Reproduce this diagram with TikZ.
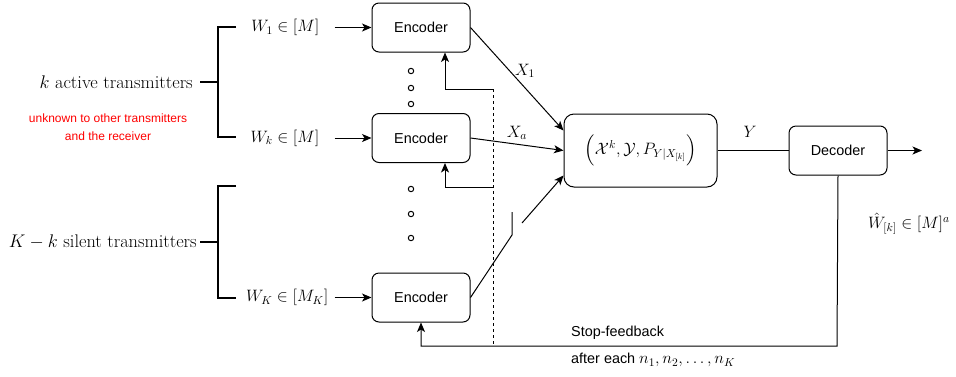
\RequirePackage{fix-cm}
\documentclass[tikz,border=0pt]{standalone}
\usepackage{amsmath}
\usepackage{fontspec}
\setsansfont{Liberation Sans}
\usetikzlibrary{arrows.meta,positioning}
\definecolor{noteRed}{HTML}{FF0000}

\begin{document}
\begin{tikzpicture}[
        x=1pt, y=-1pt,
        box/.style={rectangle, rounded corners=7pt, draw, line width=1pt, fill=white, minimum width=98pt, minimum height=49pt, inner sep=0pt, font=\sffamily\fontsize{14.4}{17}\selectfont},
        chanbox/.style={box, rounded corners=10pt, minimum width=153pt, minimum height=73pt, font=\fontsize{16.5}{20}\selectfont},
        lbl/.style={inner sep=0pt, font=\fontsize{16.5}{20}\selectfont},
        side/.style={lbl, font=\fontsize{18.3}{22}\selectfont},
        note/.style={inner sep=0pt, align=center, text=noteRed, font=\sffamily\fontsize{12}{18}\selectfont},
        plain/.style={inner sep=0pt, font=\sffamily\fontsize{14.4}{17}\selectfont},
        wire/.style={line width=1pt},
        arrow/.style={-{Stealth[length=9.5pt, width=8pt, inset=2.5pt]}, line width=1pt},
        brk/.style={line width=2.6pt}
      ]
        \useasboundingbox (0,0) rectangle (956,376);
        % encoders, channel, decoder
        \node[box] (enc1) at (421,27.5) {Encoder};
        \node[box] (enck) at (421,138) {Encoder};
        \node[box] (encK) at (421,297.5) {Encoder};
        \node[chanbox] (chan) at (640.5,150.5) {$\Big(\mathcal{X}^k, \mathcal{Y}, P_{Y|X_{[k]}}\Big)$};
        \node[box, right=71pt of chan] (dec) {Decoder};
        % messages
        \node[lbl, left=52pt of enc1] (w1) {$W_1 \in [M]$};
        \node[lbl, left=52pt of enck] (wk) {$W_k \in [M]$};
        \node[lbl, left=43pt of encK] (wK) {$W_K \in [M_K]$};
        \node[side, anchor=east] (act) at (193,82) {$k$ active transmitters};
        \node[side, anchor=east] (sil) at (197,242) {$K-k$ silent transmitters};
        \node[note] (unk) at (108,127) {unknown to other transmitters\\and the receiver};
        % brackets
        \draw[brk] (236,27) -- (218,27) -- (218,137) -- (236,137);
        \draw[brk] (200,82) -- (218,82);
        \draw[brk] (236,186) -- (218,186) -- (218,298) -- (236,298);
        \draw[brk] (200,242) -- (218,242);
        \foreach \y in {71,88,104,189,214,238}
          \draw[wire] (411,\y) circle (2.7pt);
        \draw[arrow, shorten <=15pt] (w1) -- (enc1);
        \draw[arrow, shorten <=15pt] (wk) -- (enck);
        \draw[arrow, shorten <=6pt] (wK) -- (encK);
        % channel inputs
        \draw[arrow] (enc1.east) -- ([yshift=20pt]chan.west);
        \draw[arrow] (enck.east) -- (chan.west);
        \node[lbl] (x1) at (525,71) {$X_1$};
        \node[lbl] (xa) at (517,133) {$X_a$};
        \coordinate (sw1) at (512,235);
        \coordinate (sw2) at (512,212);
        \coordinate (sw3) at (522,223);
        \draw[wire] (encK.east) -- (sw1) -- (sw2);
        \draw[arrow] (sw3) -- ([yshift=12pt]chan.south west);
        % output
        \coordinate (out) at (922,150.5);
        \draw[wire] (chan) -- (dec);
        \node[lbl] (y) at (750,132) {$Y$};
        \draw[arrow] (dec) -- (out);
        \node[lbl] (what) at (909,224) {$\hat{W}_{[k]} \in [M]^a$};
        % stop-feedback
        \coordinate (fb1) at (493,89);
        \coordinate (fbk) at (493,187);
        \coordinate (fbend) at (493,346);
        \coordinate (stop) at (837,346);
        \draw[arrow] (fb1) -| ([xshift=24pt]enc1.south);
        \draw[arrow] (fbk) -| ([xshift=24pt]enck.south);
        \draw[wire, dash pattern=on 3pt off 3pt] (fb1) -- (fbend);
        \draw[arrow] (dec.south) -- (stop) -| (encK.south);
        \node[plain, anchor=west] (sf) at (571,333) {Stop-feedback};
        \node[plain, anchor=west] (ae) at (571,360) {after each~{\fontsize{16.5}{20}\selectfont$n_1, n_2, \ldots, n_K$}};
      \end{tikzpicture}
\end{document}
